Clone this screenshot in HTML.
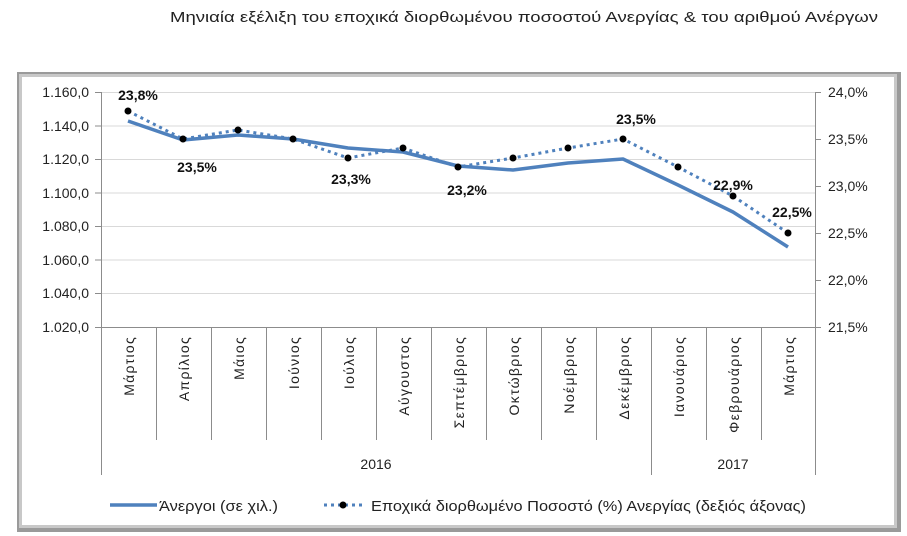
<!DOCTYPE html>
<html><head><meta charset="utf-8"><style>
body{margin:0;background:#fff;}
svg{display:block;font-family:"Liberation Sans","DejaVu Sans",sans-serif;}
</style></head><body>
<svg width="907" height="536" viewBox="0 0 907 536" xmlns="http://www.w3.org/2000/svg">
<text x="170" y="22" font-size="15" fill="#222" textLength="708" lengthAdjust="spacingAndGlyphs">Μηνιαία εξέλιξη του  εποχικά διορθωμένου ποσοστού Ανεργίας &amp; του αριθμού Ανέργων</text>
<rect x="17" y="72" width="884" height="460" fill="#9a9a9a"/>
<rect x="19" y="74" width="878" height="454" fill="#c8c8c8"/>
<rect x="22" y="77" width="872" height="448" fill="#fff"/>
<g stroke="#d9d9d9" stroke-width="1">
<line x1="101" y1="92.5" x2="815" y2="92.5"/>
<line x1="101" y1="126" x2="815" y2="126"/>
<line x1="101" y1="159.5" x2="815" y2="159.5"/>
<line x1="101" y1="193" x2="815" y2="193"/>
<line x1="101" y1="226.5" x2="815" y2="226.5"/>
<line x1="101" y1="260" x2="815" y2="260"/>
<line x1="101" y1="293.5" x2="815" y2="293.5"/>
</g>
<g stroke="#8c8c8c" stroke-width="1">
<line x1="101.5" y1="92" x2="101.5" y2="475"/>
<line x1="815.5" y1="92" x2="815.5" y2="475"/>
<line x1="95" y1="327.5" x2="821" y2="327.5"/>
<line x1="95" y1="92.5" x2="101" y2="92.5"/><line x1="95" y1="126" x2="101" y2="126"/><line x1="95" y1="159.5" x2="101" y2="159.5"/><line x1="95" y1="193" x2="101" y2="193"/><line x1="95" y1="226.5" x2="101" y2="226.5"/><line x1="95" y1="260" x2="101" y2="260"/><line x1="95" y1="293.5" x2="101" y2="293.5"/>
<line x1="815" y1="92.5" x2="821" y2="92.5"/><line x1="815" y1="139.5" x2="821" y2="139.5"/><line x1="815" y1="186.5" x2="821" y2="186.5"/><line x1="815" y1="233.5" x2="821" y2="233.5"/><line x1="815" y1="280.5" x2="821" y2="280.5"/>
<line x1="156.5" y1="327" x2="156.5" y2="440"/><line x1="211.5" y1="327" x2="211.5" y2="440"/><line x1="266.5" y1="327" x2="266.5" y2="440"/><line x1="321.5" y1="327" x2="321.5" y2="440"/><line x1="376.5" y1="327" x2="376.5" y2="440"/><line x1="431.5" y1="327" x2="431.5" y2="440"/><line x1="486.5" y1="327" x2="486.5" y2="440"/><line x1="541.5" y1="327" x2="541.5" y2="440"/><line x1="596.5" y1="327" x2="596.5" y2="440"/><line x1="706.5" y1="327" x2="706.5" y2="440"/><line x1="761.5" y1="327" x2="761.5" y2="440"/>
<line x1="651.5" y1="327" x2="651.5" y2="475"/>
</g>
<g font-size="14" fill="#222" text-anchor="end">
<text x="89" y="97">1.160,0</text><text x="89" y="131">1.140,0</text><text x="89" y="164">1.120,0</text><text x="89" y="198">1.100,0</text><text x="89" y="231">1.080,0</text><text x="89" y="265">1.060,0</text><text x="89" y="298">1.040,0</text><text x="89" y="332">1.020,0</text>
</g>
<g font-size="14" fill="#222">
<text x="828" y="97">24,0%</text><text x="828" y="144">23,5%</text><text x="828" y="191">23,0%</text><text x="828" y="238">22,5%</text><text x="828" y="285">22,0%</text><text x="828" y="332">21,5%</text>
</g>
<g font-size="14" fill="#222" text-anchor="end" letter-spacing="1.3">
<text transform="translate(134,336) rotate(-90)">Μάρτιος</text>
<text transform="translate(189,336) rotate(-90)">Απρίλιος</text>
<text transform="translate(244,336) rotate(-90)">Μάιος</text>
<text transform="translate(299,336) rotate(-90)">Ιούνιος</text>
<text transform="translate(354,336) rotate(-90)">Ιούλιος</text>
<text transform="translate(409,336) rotate(-90)">Αύγουστος</text>
<text transform="translate(464,336) rotate(-90)">Σεπτέμβριος</text>
<text transform="translate(519,336) rotate(-90)">Οκτώβριος</text>
<text transform="translate(574,336) rotate(-90)">Νοέμβριος</text>
<text transform="translate(629,336) rotate(-90)">Δεκέμβριος</text>
<text transform="translate(684,336) rotate(-90)">Ιανουάριος</text>
<text transform="translate(739,336) rotate(-90)">Φεβρουάριος</text>
<text transform="translate(794,336) rotate(-90)">Μάρτιος</text>
</g>
<text x="376" y="469" font-size="14" fill="#222" text-anchor="middle">2016</text>
<text x="733" y="469" font-size="14" fill="#222" text-anchor="middle">2017</text>
<polyline fill="none" stroke="#4f81bd" stroke-width="3.5" stroke-linejoin="round" points="128,121 183,140 238,135 293,139 348,148 403,152 458,166 513,170 568,163 623,159 678,185 733,212 788,247"/>
<polyline fill="none" stroke="#4f81bd" stroke-width="3" stroke-dasharray="3,4" points="128,111 183,139 238,130 293,139 348,158 403,148 458,167 513,158 568,148 623,139 678,167 733,196 788,233"/>
<g fill="#000">
<circle cx="128" cy="111" r="3.5"/><circle cx="183" cy="139" r="3.5"/><circle cx="238" cy="130" r="3.5"/><circle cx="293" cy="139" r="3.5"/><circle cx="348" cy="158" r="3.5"/><circle cx="403" cy="148" r="3.5"/><circle cx="458" cy="167" r="3.5"/><circle cx="513" cy="158" r="3.5"/><circle cx="568" cy="148" r="3.5"/><circle cx="623" cy="139" r="3.5"/><circle cx="678" cy="167" r="3.5"/><circle cx="733" cy="196" r="3.5"/><circle cx="788" cy="233" r="3.5"/>
</g>
<g font-size="14" font-weight="bold" fill="#111" text-anchor="middle">
<text x="138" y="100">23,8%</text>
<text x="197" y="172">23,5%</text>
<text x="351" y="184">23,3%</text>
<text x="467" y="195">23,2%</text>
<text x="636" y="124">23,5%</text>
<text x="733" y="190">22,9%</text>
<text x="792" y="217">22,5%</text>
</g>
<line x1="110" y1="505" x2="157" y2="505" stroke="#4f81bd" stroke-width="3.5"/>
<text x="159" y="511" font-size="15" fill="#222" textLength="119" lengthAdjust="spacingAndGlyphs">Άνεργοι (σε χιλ.)</text>
<line x1="324" y1="505" x2="362" y2="505" stroke="#4f81bd" stroke-width="3" stroke-dasharray="3,4"/>
<circle cx="343" cy="505" r="3.5" fill="#000"/>
<text x="371" y="511" font-size="15" fill="#222" textLength="435" lengthAdjust="spacingAndGlyphs">Εποχικά διορθωμένο Ποσοστό (%) Ανεργίας (δεξιός άξονας)</text>
</svg>
</body></html>
